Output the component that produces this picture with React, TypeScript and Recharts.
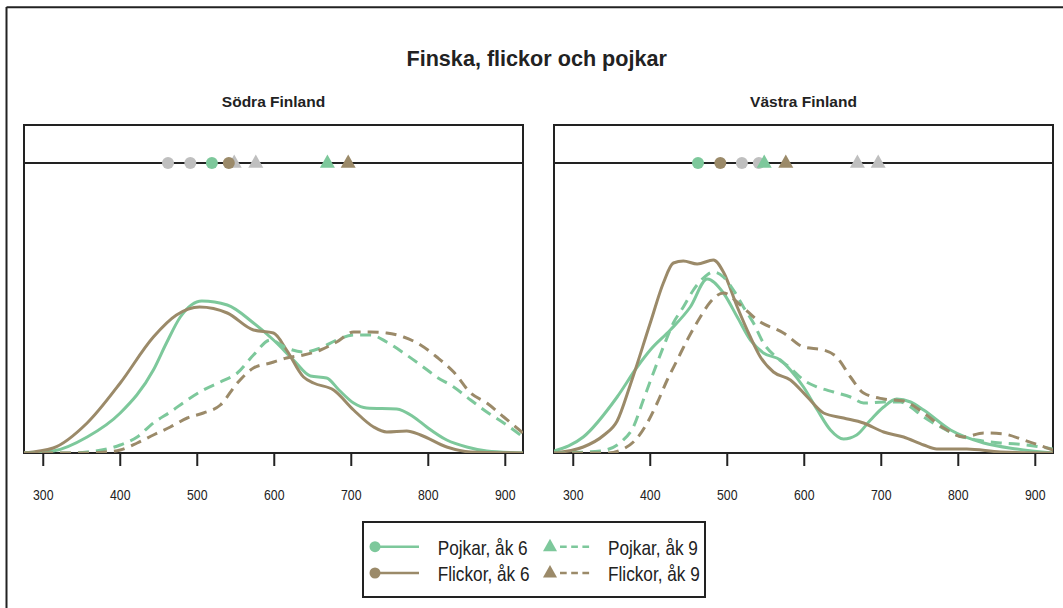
import React from 'react';
import { ComposedChart, Line, Scatter, XAxis, YAxis, ReferenceLine, ReferenceArea } from 'recharts';

type Pt = [number, number];

const X_TICKS = [300, 400, 500, 600, 700, 800, 900];
const X_DOMAIN: [number, number] = [275, 923];
const Y_DOMAIN: [number, number] = [0, 328];
const MEAN_LEVEL = 290;

const SERIES_NAMES = ['Pojkar, åk 6', 'Flickor, åk 6', 'Pojkar, åk 9', 'Flickor, åk 9'];
const SERIES_COLORS = ['#7dc89b', '#9b8a69', '#7dc89b', '#9b8a69'];
const SERIES_DASHED = [false, false, true, true];
const SERIES_MARKER = ['circle', 'circle', 'triangle', 'triangle'];
const GRAY = '#bfbfbf';

const PANEL_TITLES = ['Södra Finland', 'Västra Finland'];
const MAIN_TITLE = 'Finska, flickor och pojkar';

// means (boys6, girls6, boys9, girls9)
const southMeans = [519, 541, 669, 696];
const westMeans = [462, 491, 548, 576];

// density curves (arbitrary units)
const southBoys6: Pt[] = [
  [275, 0], [313, 2], [357, 16], [400, 40], [443, 83], [460, 110], [478, 136], [506, 152], [539, 148],
  [573, 130], [599, 113], [625, 93], [647, 77], [668, 75], [684, 63], [703, 50], [720, 45], [759, 44],
  [781, 36], [798, 26], [824, 13], [850, 6], [876, 2], [923, 0],
];
const southGirls6: Pt[] = [
  [275, 0], [313, 5], [357, 30], [400, 70], [443, 116], [473, 138], [503, 146], [539, 140], [573, 123],
  [599, 120], [616, 103], [638, 76], [651, 70], [677, 63], [703, 43], [729, 26], [746, 21], [772, 22],
  [790, 18], [824, 6], [855, 1], [923, 0],
];
const southBoys9: Pt[] = [
  [275, 0], [330, 0], [357, 1], [400, 8], [422, 16], [443, 30], [465, 41], [487, 53], [508, 63], [530, 71],
  [552, 80], [573, 98], [595, 113], [616, 105], [638, 101], [660, 105], [681, 113], [703, 118], [725, 118],
  [746, 111], [768, 100], [790, 88], [811, 76], [833, 66], [855, 53], [876, 41], [898, 30], [923, 16],
];
const southGirls9: Pt[] = [
  [275, 0], [360, 0], [380, 1], [400, 3], [422, 10], [443, 18], [465, 26], [487, 35], [508, 40], [530, 48],
  [552, 70], [573, 85], [595, 90], [616, 95], [638, 98], [660, 103], [681, 111], [703, 121], [725, 121],
  [746, 120], [768, 116], [790, 108], [811, 96], [833, 81], [855, 60], [876, 50], [898, 36], [923, 20],
];

const westBoys6: Pt[] = [
  [275, 2], [313, 16], [357, 56], [383, 86], [400, 103], [426, 123], [452, 146], [474, 174], [495, 160],
  [513, 136], [530, 113], [547, 100], [569, 93], [582, 83], [599, 66], [617, 43], [634, 23], [651, 14],
  [668, 18], [686, 33], [703, 46], [720, 54], [738, 51], [755, 43], [790, 23], [833, 10], [876, 4], [923, 0],
];
const westGirls6: Pt[] = [
  [275, 0], [313, 6], [340, 18], [357, 32], [374, 68], [400, 130], [417, 170], [430, 190], [443, 192], [461, 189],
  [482, 193], [495, 181], [513, 146], [530, 116], [543, 96], [560, 81], [582, 73], [604, 56], [625, 40],
  [651, 35], [677, 30], [703, 21], [729, 16], [755, 8], [772, 4], [811, 4], [855, 1], [923, 0],
];
const westBoys9: Pt[] = [
  [275, 0], [335, 2], [365, 13], [378, 26], [391, 53], [404, 80], [417, 106], [430, 130], [443, 146],
  [456, 163], [469, 175], [482, 181], [495, 176], [508, 163], [521, 146], [534, 130], [547, 110], [565, 95],
  [582, 85], [599, 73], [617, 66], [638, 61], [660, 56], [677, 50], [703, 51], [725, 51], [738, 46],
  [755, 36], [777, 26], [798, 18], [824, 13], [855, 10], [876, 9], [898, 7], [923, 4],
];
const westGirls9: Pt[] = [
  [275, 0], [345, 0], [365, 4], [383, 15], [396, 30], [409, 50], [422, 73], [435, 93], [448, 113],
  [465, 136], [478, 151], [495, 160], [517, 148], [539, 133], [573, 120], [599, 106], [625, 103],
  [642, 96], [660, 76], [677, 60], [703, 54], [729, 52], [755, 40], [781, 25], [807, 16], [833, 20],
  [859, 19], [885, 13], [923, 3],
];

const southCurves = [southBoys6, southGirls6, southBoys9, southGirls9];
const westCurves = [westBoys6, westGirls6, westBoys9, westGirls9];

const SANS = "'Liberation Sans', Arial, sans-serif";
const NARROW_SCALE = 0.82;
const INK = '#222';

const toRows = (pts: Pt[]) => pts.map(([x, y]) => ({ x, y }));

function markerShape(kind: string, color: string) {
  return (props: any) => {
    const { cx, cy } = props;
    if (cx == null || cy == null) return <g />;
    if (kind === 'circle') return <circle cx={cx} cy={cy} r={6} fill={color} />;
    return (
      <polygon
        points={`${cx},${cy - 8.5} ${cx - 7.5},${cy + 4.8} ${cx + 7.5},${cy + 4.8}`}
        fill={color}
      />
    );
  };
}

function NarrowTick(props: any) {
  const { x, y, payload } = props;
  return (
    <text
      transform={`translate(${x},${y + 12.5}) scale(${NARROW_SCALE},1)`}
      textAnchor="middle"
      fontSize={15}
      fontFamily={SANS}
      fill={INK}
    >
      {payload.value}
    </text>
  );
}

function Panel({ curves, means, otherMeans, width, marginRight }: {
  curves: Pt[][]; means: number[]; otherMeans: number[]; width: number; marginRight: number;
}) {
  return (
    <ComposedChart width={width} height={520} margin={{ top: 125, left: 24, right: marginRight, bottom: 17 }}>
      <XAxis
        type="number"
        dataKey="x"
        domain={X_DOMAIN}
        ticks={X_TICKS}
        allowDataOverflow
        axisLine={false}
        tickSize={13}
        tickMargin={21}
        height={50}
        tickLine={{ stroke: INK, strokeWidth: 2 }}
        tick={<NarrowTick />}
      />
      <YAxis type="number" dataKey="y" domain={Y_DOMAIN} allowDataOverflow hide />
      <ReferenceLine y={MEAN_LEVEL} stroke={INK} strokeWidth={1.8} />
      {curves.map((pts, i) => (
        <Line
          key={i}
          data={toRows(pts)}
          dataKey="y"
          type="monotone"
          stroke={SERIES_COLORS[i]}
          strokeWidth={3}
          strokeDasharray={SERIES_DASHED[i] ? '11 7' : undefined}
          dot={false}
          activeDot={false}
          isAnimationActive={false}
        />
      ))}
      {otherMeans.map((m, i) => (
        <Scatter
          key={'g' + i}
          data={[{ x: m, y: MEAN_LEVEL }]}
          shape={markerShape(SERIES_MARKER[i], GRAY)}
          isAnimationActive={false}
        />
      ))}
      {means.map((m, i) => (
        <Scatter
          key={'c' + i}
          data={[{ x: m, y: MEAN_LEVEL }]}
          shape={markerShape(SERIES_MARKER[i], SERIES_COLORS[i])}
          isAnimationActive={false}
        />
      ))}
      <ReferenceArea
        x1={X_DOMAIN[0]}
        x2={X_DOMAIN[1]}
        y1={Y_DOMAIN[0]}
        y2={Y_DOMAIN[1]}
        fill="none"
        fillOpacity={0}
        stroke={INK}
        strokeWidth={2}
      />
    </ComposedChart>
  );
}

function Legend() {
  const rowsY = [25.7, 52];
  const colX = [13, 188];
  const textX = [75.7, 246];
  return (
    <svg width={344} height={77} style={{ position: 'absolute', left: 362, top: 521 }}>
      <rect x={1} y={1} width={342} height={75} fill="white" stroke={INK} strokeWidth={2} />
      {SERIES_NAMES.map((name, i) => {
        const col = i < 2 ? 0 : 1;
        const row = i % 2;
        const cy = rowsY[row];
        const cx = colX[col];
        const color = SERIES_COLORS[i];
        return (
          <g key={name}>
            {SERIES_DASHED[i] ? (
              <line x1={cx + 10} x2={cx + 40} y1={cy} y2={cy} stroke={color} strokeWidth={2.5} strokeDasharray="6.7 4.5" />
            ) : (
              <line x1={cx} x2={cx + 44} y1={cy} y2={cy} stroke={color} strokeWidth={2.5} />
            )}
            {SERIES_MARKER[i] === 'circle' ? (
              <circle cx={cx} cy={cy} r={5.5} fill={color} />
            ) : (
              <polygon points={`${cx},${cy - 8} ${cx - 7},${cy + 4.5} ${cx + 7},${cy + 4.5}`} fill={color} />
            )}
            <text
              transform={`translate(${textX[col]},${cy + 7.8}) scale(${NARROW_SCALE},1)`}
              fontSize={21}
              fontFamily={SANS}
              fill={INK}
            >
              {name}
            </text>
          </g>
        );
      })}
    </svg>
  );
}

export default function App() {
  return (
    <div style={{ position: 'absolute', left: 0, top: 0, width: 1063, height: 608, overflow: 'hidden', background: 'white' }}>
      <div style={{ position: 'absolute', left: 0, top: 0 }}>
        <Panel curves={southCurves} means={southMeans} otherMeans={westMeans} width={540} marginRight={17} />
      </div>
      <div style={{ position: 'absolute', left: 530, top: 0 }}>
        <Panel curves={westCurves} means={westMeans} otherMeans={southMeans} width={533} marginRight={10} />
      </div>
      <svg width={1063} height={608} style={{ position: 'absolute', left: 0, top: 0, pointerEvents: 'none' }}>
        <line x1={6.5} x2={1063} y1={7.3} y2={7.3} stroke={INK} strokeWidth={2} />
        <line x1={6.5} x2={6.5} y1={7} y2={608} stroke={INK} strokeWidth={2} />
        <text x={536.7} y={65.5} textAnchor="middle" fontSize={21.6} fontWeight="bold" fontFamily={SANS} fill={INK}>{MAIN_TITLE}</text>
        <text x={273.5} y={106.5} textAnchor="middle" fontSize={15.5} fontWeight="bold" fontFamily={SANS} fill={INK}>{PANEL_TITLES[0]}</text>
        <text x={803.5} y={106.5} textAnchor="middle" fontSize={15.5} fontWeight="bold" fontFamily={SANS} fill={INK}>{PANEL_TITLES[1]}</text>
      </svg>
      <Legend />
    </div>
  );
}
